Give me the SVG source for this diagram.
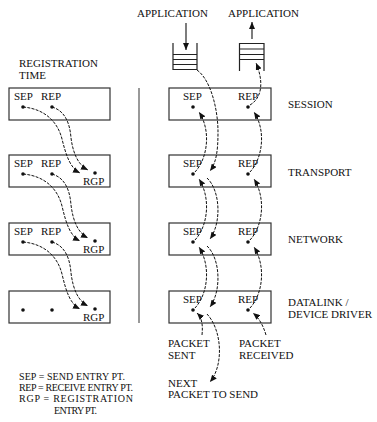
<svg xmlns="http://www.w3.org/2000/svg" width="377" height="422" viewBox="0 0 377 422">
<style>
text{font-family:"Liberation Serif","Times New Roman",serif;font-size:11px;fill:#111}
.lg{font-size:10px}
.box{fill:#fff;stroke:#333;stroke-width:1.2}
.dot{fill:#111}
.cv{fill:none;stroke:#111;stroke-width:1;stroke-dasharray:3 1.3;marker-end:url(#ah)}
.sl{fill:none;stroke:#111;stroke-width:1.1}
.stk{fill:none;stroke:#222;stroke-width:1.2}
</style>
<defs>
<marker id="ah" viewBox="0 0 7 6" markerWidth="7" markerHeight="6" refX="7" refY="3" orient="auto" markerUnits="userSpaceOnUse">
<path d="M0,0 L7,3 L0,6 z" fill="#111" stroke="none"/>
</marker>
</defs>
<rect width="377" height="422" fill="#fff"/>

<g id="titles">
<text x="137" y="17">APPLICATION</text>
<text x="228" y="17">APPLICATION</text>
<text x="19" y="67">REGISTRATION</text>
<text x="19" y="79">TIME</text>
</g>

<g id="send-queue">
<path class="stk" d="M173,43 V70 M197,43 V70 M173,54.5 H197 M173,59.5 H197 M173,64.5 H197 M173,69.5 H197"/>
</g>
<g id="recv-queue">
<path class="stk" d="M239.5,43 V71 M264,43 V71 M239.5,43.5 H264 M239.5,49 H264 M239.5,54.5 H264 M239.5,59.5 H264"/>
</g>

<line id="divider" x1="139" y1="88" x2="139" y2="323" stroke="#777" stroke-width="1.5"/>

<g id="reg-box1">
<rect class="box" x="9" y="88" width="101" height="32"/>
<text x="14" y="100">SEP</text><text x="41" y="100">REP</text>
<circle class="dot" cx="23" cy="107" r="1.8"/><circle class="dot" cx="52" cy="107" r="1.8"/>
</g>
<g id="reg-box2">
<rect class="box" x="9" y="155" width="101" height="32"/>
<text x="14" y="167">SEP</text><text x="41" y="167">REP</text>
<circle class="dot" cx="23" cy="174" r="1.8"/><circle class="dot" cx="52" cy="174" r="1.8"/>
<circle class="dot" cx="95" cy="173" r="1.8"/><text x="83" y="185">RGP</text>
</g>
<g id="reg-box3">
<rect class="box" x="9" y="223" width="101" height="32"/>
<text x="14" y="235">SEP</text><text x="41" y="235">REP</text>
<circle class="dot" cx="23" cy="242" r="1.8"/><circle class="dot" cx="52" cy="242" r="1.8"/>
<circle class="dot" cx="95" cy="241" r="1.8"/><text x="83" y="253">RGP</text>
</g>
<g id="reg-box4">
<rect class="box" x="9" y="291" width="101" height="32"/>
<circle class="dot" cx="23" cy="310" r="1.8"/><circle class="dot" cx="52" cy="310" r="1.8"/>
<circle class="dot" cx="95" cy="309" r="1.8"/><text x="83" y="321">RGP</text>
</g>

<g id="session">
<rect class="box" x="169" y="88" width="102" height="32"/>
<text x="183" y="100">SEP</text><text x="238" y="100">REP</text>
<circle class="dot" cx="193" cy="107" r="1.8"/><circle class="dot" cx="248" cy="107" r="1.8"/>
<text x="288" y="108">SESSION</text>
</g>
<g id="transport">
<rect class="box" x="169" y="155" width="102" height="32"/>
<text x="183" y="167">SEP</text><text x="238" y="167">REP</text>
<circle class="dot" cx="193" cy="174" r="1.8"/><circle class="dot" cx="248" cy="174" r="1.8"/>
<text x="288" y="176">TRANSPORT</text>
</g>
<g id="network">
<rect class="box" x="169" y="223" width="102" height="32"/>
<text x="183" y="235">SEP</text><text x="238" y="235">REP</text>
<circle class="dot" cx="193" cy="242" r="1.8"/><circle class="dot" cx="248" cy="242" r="1.8"/>
<text x="288" y="243">NETWORK</text>
</g>
<g id="datalink">
<rect class="box" x="169" y="291" width="102" height="32"/>
<text x="183" y="303">SEP</text><text x="238" y="303">REP</text>
<circle class="dot" cx="193" cy="310" r="1.8"/><circle class="dot" cx="248" cy="310" r="1.8"/>
<text x="288" y="306">DATALINK /</text>
<text x="288" y="318">DEVICE DRIVER</text>
</g>

<g id="bottom-labels">
<text x="168" y="347">PACKET</text><text x="168" y="359">SENT</text>
<text x="239" y="347">PACKET</text><text x="239" y="359">RECEIVED</text>
<text x="168" y="387">NEXT</text><text x="168" y="398">PACKET TO SEND</text>
</g>

<g id="legend">
<text class="lg" x="19" y="380" textLength="106">SEP = SEND ENTRY PT.</text>
<text class="lg" x="19" y="391" textLength="114">REP = RECEIVE ENTRY PT.</text>
<text class="lg" x="19" y="402" textLength="114">RGP = REGISTRATION</text>
<text class="lg" x="54" y="414" textLength="43">ENTRY PT.</text>
</g>

<g id="connectors">
<line class="sl" x1="186" y1="23" x2="186" y2="50" marker-end="url(#ah)"/>
<line class="sl" x1="252" y1="39" x2="252" y2="22" marker-end="url(#ah)"/>

<path class="cv" d="M23,107 C46,109 58,123 62,139 C66,155 70,168 80,173"/>
<path class="cv" d="M52,107 C66,111 70,125 71,138 C73,153 78,165 88,170"/>
<path class="cv" d="M23,174 C46,176 58,190 62,206 C66,223 70,236 80,241"/>
<path class="cv" d="M52,174 C66,178 70,192 71,205 C73,221 78,233 88,238"/>
<path class="cv" d="M23,242 C46,244 58,258 62,274 C66,291 70,304 80,309"/>
<path class="cv" d="M52,242 C66,246 70,260 71,273 C73,289 78,301 88,306"/>

<path class="cv" d="M197,70 C211,80 218,110 218,132 C218,152 216,163 210,171"/>
<path class="cv" d="M207,178 C220,190 222,222 210,239"/>
<path class="cv" d="M207,246 C220,258 222,290 210,307"/>
<path class="cv" d="M207,314 C222,330 224,365 210,382"/>

<path class="cv" d="M195,172 C208,158 211,130 199,112"/>
<path class="cv" d="M195,240 C208,226 211,198 199,179"/>
<path class="cv" d="M195,308 C208,294 211,266 199,247"/>

<path class="cv" d="M250,172 C263,158 266,130 254,112"/>
<path class="cv" d="M250,240 C263,226 266,198 254,179"/>
<path class="cv" d="M250,308 C263,294 266,266 254,247"/>
<path class="cv" d="M250,105 C262,98 264,82 256,63"/>

<path class="cv" d="M202,335 C203,325 202,318 197,313"/>
<path class="cv" d="M266,335 C263,325 259,318 253,313"/>
</g>
</svg>
